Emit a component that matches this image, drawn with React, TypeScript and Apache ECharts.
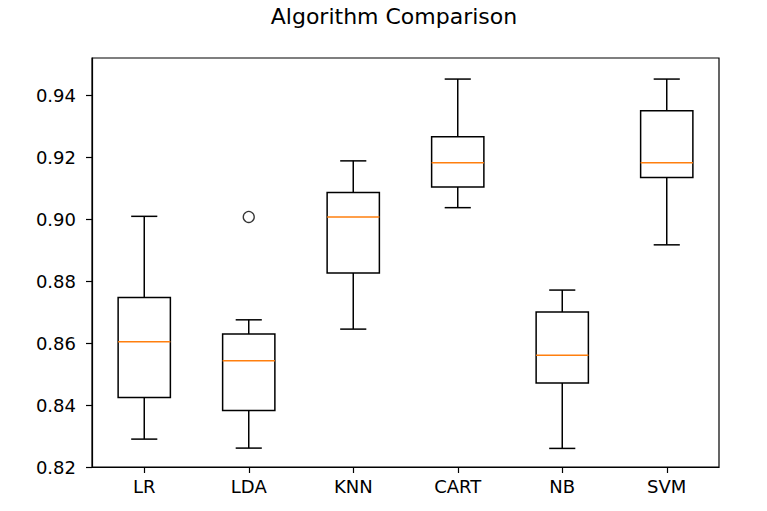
import React, { useEffect, useRef } from "react";
import * as echarts from "echarts";

const categories = ["LR", "LDA", "KNN", "CART", "NB", "SVM"];
const whiskerLow = [0.829, 0.8261, 0.8645, 0.9037, 0.826, 0.8917];
const q1 = [0.8424, 0.8382, 0.8826, 0.9104, 0.8471, 0.9134];
const median = [0.8604, 0.8543, 0.9007, 0.9182, 0.8561, 0.9182];
const q3 = [0.8747, 0.8629, 0.9086, 0.9266, 0.87, 0.935];
const whiskerHigh = [0.9009, 0.8675, 0.9188, 0.9452, 0.8771, 0.9452];
const outliers: [string, number][] = [["LDA", 0.9007]];
const yTicks = [0.82, 0.84, 0.86, 0.88, 0.9, 0.92, 0.94];
const titleText = "Algorithm Comparison";

const FONT = "DejaVu Sans";

export default function App() {
  const ref = useRef<HTMLDivElement>(null);
  useEffect(() => {
    if (!ref.current) return;
    const chart = echarts.init(ref.current, null, { renderer: "svg" });
    const boxData = categories.map((_, i) => [
      i,
      whiskerLow[i],
      q1[i],
      median[i],
      q3[i],
      whiskerHigh[i],
    ]);
    const lineStyle = { stroke: "#000", lineWidth: 1.5 };
    chart.setOption({
      animation: false,
      backgroundColor: "#fff",
      graphic: [
        {
          type: "text",
          x: 394,
          y: 16,
          style: {
            text: titleText,
            fontSize: 22,
            fontFamily: FONT,
            fill: "#000",
            align: "center",
            verticalAlign: "middle",
          },
        },
      ],
      grid: {
        left: 92,
        right: 48,
        top: 58,
        bottom: 44,
        show: true,
        borderColor: "#000",
        borderWidth: 1.2,
        backgroundColor: "transparent",
      },
      xAxis: {
        type: "category",
        data: categories,
        boundaryGap: true,
        axisLine: { show: true, lineStyle: { color: "#000", width: 1.2 } },
        axisTick: { show: true, alignWithLabel: true, length: 6, lineStyle: { color: "#000", width: 1.2 } },
        axisLabel: { color: "#000", fontSize: 18, fontFamily: FONT, margin: 10 },
        splitLine: { show: false },
      },
      yAxis: {
        type: "value",
        min: 0.82,
        max: 0.952,
        interval: 0.02,
        axisLine: { show: true, lineStyle: { color: "#000", width: 1.2 } },
        axisTick: { show: true, length: 6, lineStyle: { color: "#000", width: 1.2 }, customValues: yTicks },
        axisLabel: {
          color: "#000",
          fontSize: 18,
          fontFamily: FONT,
          margin: 16,
          customValues: yTicks,
          formatter: (v: number) => v.toFixed(2),
        },
        splitLine: { show: false },
      },
      series: [
        {
          type: "custom",
          data: boxData,
          encode: { x: 0, y: [1, 2, 3, 4, 5] },
          renderItem: (params: any, api: any) => {
            const idx = api.value(0);
            const pLo = api.coord([idx, api.value(1)]);
            const pQ1 = api.coord([idx, api.value(2)]);
            const pMed = api.coord([idx, api.value(3)]);
            const pQ3 = api.coord([idx, api.value(4)]);
            const pHi = api.coord([idx, api.value(5)]);
            const band = api.size([1, 0])[0];
            const bw = band * 0.5;
            const cw = band * 0.25;
            const cx = pLo[0];
            return {
              type: "group",
              children: [
                { type: "line", shape: { x1: cx, y1: pLo[1], x2: cx, y2: pQ1[1] }, style: lineStyle },
                { type: "line", shape: { x1: cx, y1: pQ3[1], x2: cx, y2: pHi[1] }, style: lineStyle },
                { type: "line", shape: { x1: cx - cw / 2, y1: pLo[1], x2: cx + cw / 2, y2: pLo[1] }, style: lineStyle },
                { type: "line", shape: { x1: cx - cw / 2, y1: pHi[1], x2: cx + cw / 2, y2: pHi[1] }, style: lineStyle },
                {
                  type: "rect",
                  shape: { x: cx - bw / 2, y: pQ3[1], width: bw, height: pQ1[1] - pQ3[1] },
                  style: { fill: "transparent", stroke: "#000", lineWidth: 1.5 },
                },
                {
                  type: "line",
                  shape: { x1: cx - bw / 2, y1: pMed[1], x2: cx + bw / 2, y2: pMed[1] },
                  style: { stroke: "#ff7f0e", lineWidth: 1.5 },
                },
              ],
            };
          },
        },
        {
          type: "scatter",
          data: outliers,
          symbol: "circle",
          symbolSize: 11,
          itemStyle: { color: "transparent", borderColor: "#000", borderWidth: 1.3 },
        },
      ],
    });
    return () => chart.dispose();
  }, []);
  return (
    <div
      ref={ref}
      style={{ position: "fixed", left: 0, top: 0, width: 767, height: 511 }}
    />
  );
}
